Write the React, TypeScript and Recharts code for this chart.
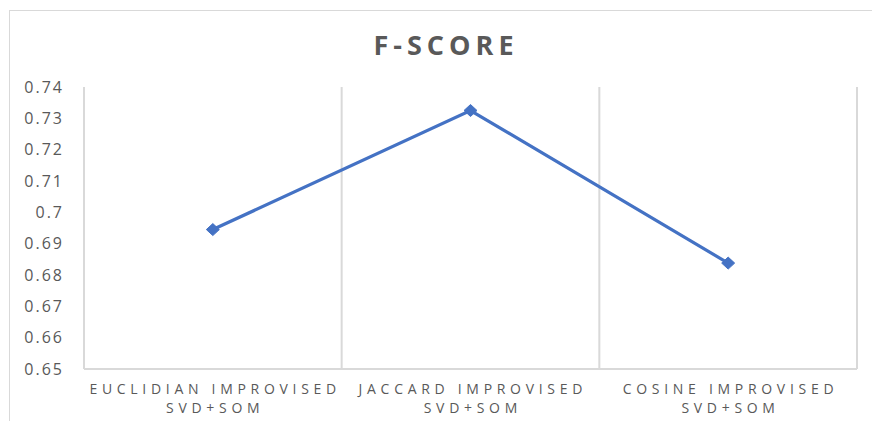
import React from "react";
import { LineChart, Line, XAxis, YAxis, ReferenceLine } from "recharts";

const categories = [
  "EUCLIDIAN IMPROVISED SVD+SOM",
  "JACCARD IMPROVISED SVD+SOM",
  "COSINE IMPROVISED SVD+SOM",
];
const fScores = [0.6945, 0.7325, 0.6838];
const yTicks = [0.65, 0.66, 0.67, 0.68, 0.69, 0.7, 0.71, 0.72, 0.73, 0.74];
const title = "F-SCORE";

const data = categories.map((name, i) => ({ pos: i + 0.5, name, value: fScores[i] }));
const xTicks = data.map((d) => d.pos);
const boundaries = categories.map((_, i) => i + 1);

const GRID = "#d9d9d9";
const TEXT = "#595959";
const LINE = "#4472C4";
const FONT = "'Open Sans', 'Liberation Sans', sans-serif";

function XTick(props: any) {
  const { x, y, payload } = props;
  const idx = Math.round(payload.value - 0.5);
  const name = categories[idx] || "";
  const cut = name.lastIndexOf(" ");
  const l1 = name.slice(0, cut);
  const l2 = name.slice(cut + 1);
  const ls = 4.7;
  return (
    <g>
      <text x={x + ls / 2} y={y + 17} textAnchor="middle" fill={TEXT} fontSize={14} fontFamily={FONT} letterSpacing={ls}>
        {l1}
      </text>
      <text x={x + ls / 2} y={y + 36} textAnchor="middle" fill={TEXT} fontSize={14} fontFamily={FONT} letterSpacing={ls}>
        {l2}
      </text>
    </g>
  );
}

function Diamond(props: any) {
  const { cx, cy } = props;
  if (cx == null || cy == null) return null;
  const w = 6.5;
  const h = 6;
  return (
    <polygon
      points={`${cx - w},${cy} ${cx},${cy - h} ${cx + w},${cy} ${cx},${cy + h}`}
      fill={LINE}
      stroke={LINE}
      strokeWidth={1}
    />
  );
}

export default function App() {
  return (
    <div style={{ position: "absolute", left: 0, top: 0, width: 872, height: 421, overflow: "hidden", background: "#fff" }}>
      <div
        style={{
          position: "absolute",
          left: 9,
          top: 10,
          width: 900,
          height: 500,
          borderTop: `1.5px solid ${GRID}`,
          borderLeft: `1.5px solid ${GRID}`,
        }}
      />
      <div
        style={{
          position: "absolute",
          left: 0,
          width: 892,
          top: 27,
          textAlign: "center",
          fontFamily: FONT,
          fontWeight: 700,
          fontSize: 27,
          letterSpacing: 5,
          color: TEXT,
          lineHeight: "36px",
        }}
      >
        {title}
      </div>
      <div style={{ position: "absolute", left: 0, top: 0 }}>
        <LineChart width={872} height={421} data={data} margin={{ top: 87, right: 15, bottom: 0, left: 0 }}>
          <XAxis
            dataKey="pos"
            type="number"
            domain={[0, categories.length]}
            ticks={xTicks}
            tickLine={false}
            axisLine={{ stroke: GRID, strokeWidth: 2 }}
            tick={(p: any) => <XTick {...p} />}
            interval={0}
            height={52}
          />
          <YAxis
            type="number"
            domain={[yTicks[0], yTicks[yTicks.length - 1]]}
            ticks={yTicks}
            width={84}
            tickLine={false}
            axisLine={{ stroke: GRID, strokeWidth: 2 }}
            tickSize={6}
            tickMargin={14}
            tick={{ fill: TEXT, fontSize: 16, fontFamily: FONT, letterSpacing: 2 }}
            tickFormatter={(v: number) => String(Number(v.toFixed(2)))}
            interval={0}
          />
          {boundaries.map((b) => (
            <ReferenceLine key={b} x={b} stroke={GRID} strokeWidth={2} />
          ))}
          <Line
            type="linear"
            dataKey="value"
            stroke={LINE}
            strokeWidth={3.2}
            dot={(p: any) => <Diamond key={p.index} {...p} />}
            activeDot={false}
            isAnimationActive={false}
          />
        </LineChart>
      </div>
    </div>
  );
}
